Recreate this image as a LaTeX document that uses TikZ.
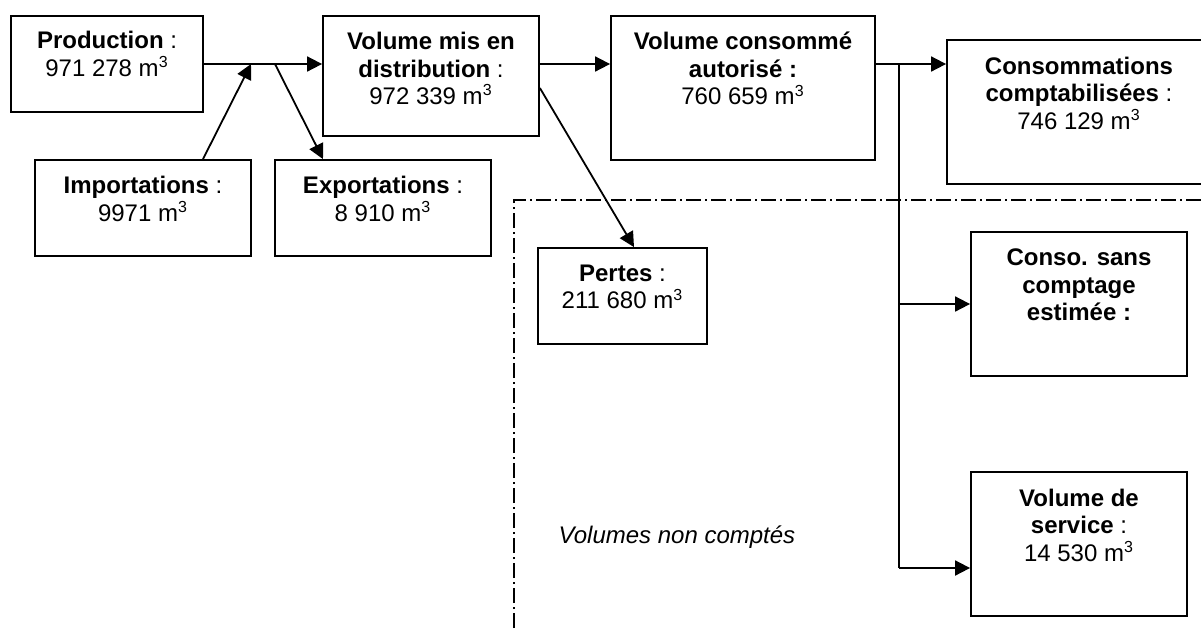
\documentclass[tikz,border=0pt]{standalone}
\usepackage{fontspec}
\setmainfont{Liberation Sans}
\usetikzlibrary{arrows.meta}

\tikzset{
  box/.style={draw, line width=0.9pt, inner sep=0pt},
  txt/.style={anchor=north, align=center, inner sep=0pt,
    font=\fontsize{12}{13.8}\selectfont},
  flow/.style={line width=0.9pt, -{Triangle[length=7.5pt,width=7.5pt]}},
  nonc/.style={line width=0.75pt, dash pattern=on 7.5pt off 2pt on 1pt off 2pt}
}
\newcommand{\mcube}{m\textsuperscript{3}}

\begin{document}
\begin{tikzpicture}[x=0.5pt,y=-0.5pt]
        \clip (0,0) rectangle (1201,628);
        % boites
        \node[box, minimum width=96pt, minimum height=48pt] (prod) at (107,64) {};
        \node[box, minimum width=108pt, minimum height=48pt] (imp) at (143,208) {};
        \node[box, minimum width=108pt, minimum height=48pt] (exp) at (383,208) {};
        \node[box, minimum width=108pt, minimum height=60pt] (vmd) at (431,76) {};
        \node[box, minimum width=132pt, minimum height=72pt] (vca) at (743,88) {};
        \node[box, minimum width=132pt, minimum height=72pt] (cc) at (1079,112) {};
        \node[box, minimum width=108pt, minimum height=72pt] (csc) at (1079,304) {};
        \node[box, minimum width=108pt, minimum height=72pt] (vds) at (1079,544) {};
        \node[box, minimum width=84.5pt, minimum height=48pt] (pertes) at (622.5,296) {};
        % textes
        \node[txt] (prod-t) at ([yshift=-8pt]prod.north) {\textbf{Production} :\\971 278 \mcube};
        \node[txt] (imp-t) at ([yshift=-8.3pt]imp.north) {\textbf{Importations} :\\9971 \mcube};
        \node[txt] (exp-t) at ([yshift=-8.3pt]exp.north) {\textbf{Exportations} :\\8 910 \mcube};
        \node[txt] (vmd-t) at ([yshift=-8.3pt]vmd.north) {\textbf{Volume mis en}\\\textbf{distribution} :\\972 339 \mcube};
        \node[txt] (vca-t) at ([yshift=-8.3pt]vca.north) {\textbf{Volume consommé}\\\textbf{autorisé :}\\760 659 \mcube};
        \node[txt] (cc-t) at ([yshift=-8.6pt]cc.north) {\textbf{Consommations}\\\textbf{comptabilisées} :\\746 129 \mcube};
        \node[txt] (csc-t) at ([yshift=-8.6pt]csc.north) {\textbf{Conso. sans}\\\textbf{comptage}\\\textbf{estimée :}};
        \node[txt] (vds-t) at ([yshift=-8.6pt]vds.north) {\textbf{Volume de}\\\textbf{service} :\\14 530 \mcube};
        \node[txt] (pertes-t) at ([yshift=-8.6pt]pertes.north) {\textbf{Pertes} :\\211 680 \mcube};
        \node[txt, anchor=center] (nc) at (677,537) {\itshape Volumes non comptés};
        % jonctions
        \coordinate (j1) at (251,64);
        \coordinate (j2) at (275,64);
        \coordinate (j3) at (899,64);
        \coordinate (j4) at (899,304);
        \coordinate (j5) at (899,568);
        % fleches
        \draw[flow] (prod.east) -- (vmd.west |- prod.east);
        \draw[flow] ([xshift=30pt]imp.north) -- (j1);
        \draw[flow] (j2) -- ([xshift=-30pt]exp.north);
        \draw[flow] (vmd.east |- j1) -- (vca.west |- j1);
        \draw[flow] ([yshift=-6pt]vmd.east) -- ([xshift=5.75pt]pertes.north);
        \draw[flow] (vca.east |- j3) -- (cc.west |- j3);
        \draw[line width=0.9pt] (j3) -- (j5);
        \draw[flow] (j4) -- (csc.west |- j4);
        \draw[flow] (j5) -- (vds.west |- j5);
        % volumes non comptes
        \draw[nonc] (514,628) -- (514,200) -- (1201,200);
      \end{tikzpicture}
\end{document}
